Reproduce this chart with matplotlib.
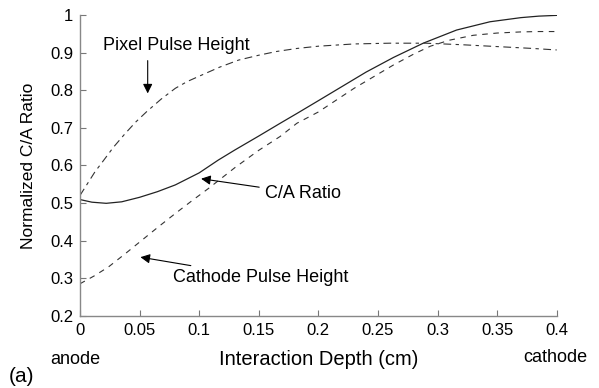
import numpy as np
import matplotlib as mpl
import matplotlib.pyplot as plt

#Datos
depth_ca = [0.0, 0.01, 0.022, 0.035, 0.05, 0.065, 0.08, 0.1, 0.116, 0.13, 0.15, 0.168, 0.182, 0.2,
            0.22, 0.24, 0.263, 0.288, 0.316, 0.344, 0.37, 0.385, 0.4]
ca_ratio = [0.509, 0.502, 0.499, 0.503, 0.515, 0.530, 0.548, 0.580, 0.614, 0.641, 0.678, 0.712, 0.738, 0.772,
            0.810, 0.848, 0.887, 0.925, 0.960, 0.982, 0.993, 0.997, 0.999]

depth_px = [0.0, 0.005, 0.0126, 0.02, 0.028, 0.038, 0.047, 0.056, 0.068, 0.08, 0.09, 0.102, 0.117, 0.133,
            0.15, 0.165, 0.182, 0.2, 0.23, 0.26, 0.29, 0.32, 0.35, 0.38, 0.4]
pixel_ph = [0.52, 0.545, 0.583, 0.614, 0.648, 0.685, 0.716, 0.743, 0.776, 0.805, 0.823, 0.840, 0.861, 0.880,
            0.893, 0.903, 0.911, 0.917, 0.923, 0.925, 0.925, 0.921, 0.916, 0.911, 0.907]

depth_cat = [0.0, 0.012, 0.024, 0.038, 0.052, 0.066, 0.08, 0.094, 0.108, 0.12, 0.13, 0.15, 0.168, 0.182,
             0.2, 0.23, 0.263, 0.28, 0.294, 0.31, 0.33, 0.35, 0.37, 0.385, 0.4]
cathode_ph = [0.285, 0.306, 0.330, 0.365, 0.401, 0.437, 0.472, 0.506, 0.539, 0.569, 0.594, 0.640, 0.677, 0.712,
              0.742, 0.805, 0.867, 0.896, 0.917, 0.933, 0.946, 0.952, 0.955, 0.956, 0.956]

xticks = [0, 0.05, 0.1, 0.15, 0.2, 0.25, 0.3, 0.35, 0.4]
xlabels = ['0', '0.05', '0.1', '0.15', '0.2', '0.25', '0.3', '0.35', '0.4']
yticks = [0.2, 0.3, 0.4, 0.5, 0.6, 0.7, 0.8, 0.9, 1.0]
ylabels = ['0.2', '0.3', '0.4', '0.5', '0.6', '0.7', '0.8', '0.9', '1']

#--------------------------------
plt.close('all')
mpl.rcParams.update({'font.family': ['Liberation Sans', 'DejaVu Sans'], 'font.size': 12})

fig = plt.figure(figsize=[5.99, 3.88], dpi=100)
ax = fig.add_axes((80/599., 1-315.7/388., 476.7/599., 300.7/388.))

ax.plot(depth_ca, ca_ratio, '-', color='#222222', linewidth=0.9)
ax.plot(depth_px, pixel_ph, '-.', color='#333333', linewidth=0.8, dashes=[7, 4, 3, 4])
ax.plot(depth_cat, cathode_ph, '--', color='#333333', linewidth=0.8, dashes=[5, 5])

ax.set_xlim(0, 0.4)
ax.set_ylim(0.2, 1.0)
ax.set_xticks(xticks)
ax.set_xticklabels(xlabels)
ax.set_yticks(yticks)
ax.set_yticklabels(ylabels)
ax.tick_params(direction='in', length=4, width=0.8, color='#777777', labelsize=12, pad=5)
ax.spines['top'].set_visible(False)
ax.spines['right'].set_visible(False)
ax.spines['left'].set_color('#888888')
ax.spines['bottom'].set_color('#888888')
ax.spines['left'].set_linewidth(1.0)
ax.spines['bottom'].set_linewidth(1.0)

ax.set_ylabel('Normalized C/A Ratio', fontsize=12.5, labelpad=10)
ax.set_xlabel('Interaction Depth (cm)', fontsize=14.5, labelpad=9)

#Anotaciones de las curvas
flecha = dict(arrowstyle='-|>', color='black', linewidth=0.8, mutation_scale=14)
ax.text(0.0806, 0.918, 'Pixel Pulse Height', ha='center', va='center', fontsize=13)
ax.annotate('', xy=(0.0568, 0.784), xytext=(0.0568, 0.886), arrowprops=flecha)
ax.annotate('C/A Ratio', xy=(0.0993, 0.5655), xytext=(0.155, 0.525),
            ha='left', va='center', fontsize=13, arrowprops=flecha)
ax.annotate('Cathode Pulse Height', xy=(0.0484, 0.357), xytext=(0.078, 0.302),
            ha='left', va='center', fontsize=13, arrowprops=flecha)

fig.text(50/599., 1-359/388., 'anode', fontsize=13, ha='left', va='center')
fig.text(587/599., 1-357/388., 'cathode', fontsize=13, ha='right', va='center')
fig.text(9/599., 1-377/388., '(a)', fontsize=15, ha='left', va='center')

fig.savefig('out.png', dpi=100)
